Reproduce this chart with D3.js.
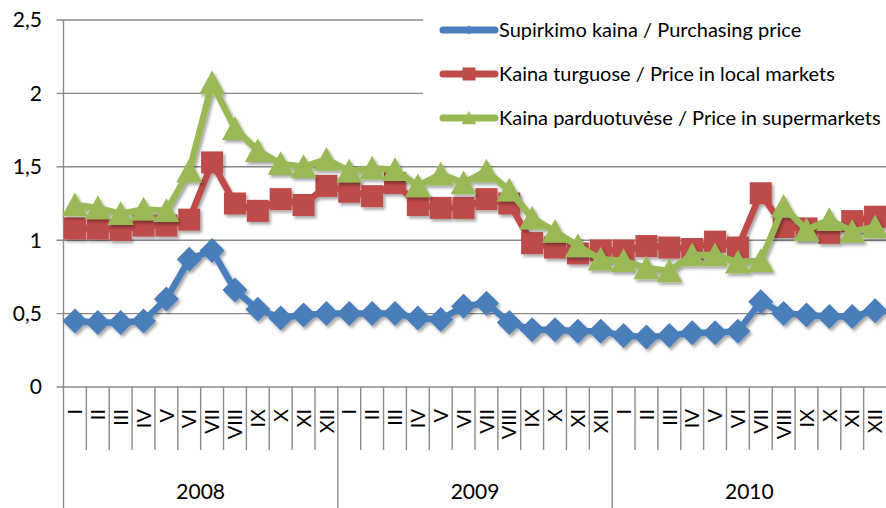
<!DOCTYPE html>
<html>
<head>
<meta charset="utf-8">
<title>Kainos / Prices</title>
<style>
body {
  margin: 0;
  background: white;
}
svg {
  display: block;
  font-family: Lato, "Open Sans", sans-serif;
}
.grid line {
  stroke: #8a8a8a;
  stroke-width: 1.4px;
}
.series path.line {
  fill: none;
  stroke-width: 6.5px;
  stroke-linejoin: round;
  stroke-linecap: round;
}
</style>
<script src="https://cdnjs.cloudflare.com/ajax/libs/d3/7.8.5/d3.min.js"></script>
</head>
<body>
<svg width="886" height="508"></svg>
<script>
const months = ['I', 'II', 'III', 'IV', 'V', 'VI', 'VII', 'VIII', 'IX', 'X', 'XI', 'XII'];
const years = ['2008', '2009', '2010'];
const yTicks = [0, 0.5, 1, 1.5, 2, 2.5];

// Supirkimo kaina / Purchasing price
const purchasing = [
  0.45, 0.44, 0.44, 0.45, 0.60, 0.87, 0.93, 0.66, 0.53, 0.47, 0.49, 0.50,
  0.50, 0.50, 0.50, 0.47, 0.46, 0.55, 0.57, 0.44, 0.39, 0.39, 0.38, 0.38,
  0.35, 0.34, 0.35, 0.37, 0.37, 0.38, 0.58, 0.50, 0.49, 0.48, 0.48, 0.52
];
// Kaina turguose / Price in local markets
const localMarkets = [
  1.08, 1.08, 1.07, 1.10, 1.10, 1.14, 1.53, 1.25, 1.20, 1.28, 1.24, 1.37,
  1.33, 1.30, 1.39, 1.24, 1.22, 1.22, 1.28, 1.25, 0.98, 0.95, 0.91, 0.93,
  0.93, 0.96, 0.95, 0.94, 0.99, 0.95, 1.32, 1.09, 1.08, 1.05, 1.13, 1.16
];
// Kaina parduotuvėse / Price in supermarkets
const supermarkets = [
  1.24, 1.22, 1.18, 1.21, 1.20, 1.47, 2.07, 1.76, 1.61, 1.52, 1.50, 1.55,
  1.47, 1.49, 1.48, 1.37, 1.45, 1.39, 1.47, 1.34, 1.15, 1.06, 0.96, 0.87,
  0.86, 0.81, 0.79, 0.90, 0.90, 0.85, 0.86, 1.23, 1.07, 1.14, 1.06, 1.09
];

const series = [
  { name: 'Supirkimo kaina / Purchasing price', values: purchasing, color: '#4a7ebb', marker: 'diamond' },
  { name: 'Kaina turguose / Price in local markets', values: localMarkets, color: '#be4b48', marker: 'square' },
  { name: 'Kaina parduotuvėse / Price in supermarkets', values: supermarkets, color: '#98b954', marker: 'triangle' }
];

const svg = d3.select('svg');
const plotLeft = 63.5, plotRight = 886.5, plotTop = 20, plotBottom = 387;

// one key per month, e.g. "2008-I"
const keys = [];
years.forEach(yr => months.forEach(m => keys.push(yr + '-' + m)));

const x = d3.scaleBand().domain(keys).range([plotLeft, plotRight]).padding(0);
const xYear = d3.scaleBand().domain(years).range([plotLeft, plotRight]).padding(0);
const y = d3.scaleLinear().domain([0, 2.5]).range([plotBottom, plotTop]);
const cx = k => x(k) + x.bandwidth() / 2;

// shadow like the office chart
const defs = svg.append('defs');
defs.append('filter')
  .attr('id', 'shadow')
  .attr('x', '-20%').attr('y', '-20%').attr('width', '140%').attr('height', '140%')
  .append('feDropShadow')
  .attr('dx', 2).attr('dy', 2.5).attr('stdDeviation', 1.6)
  .attr('flood-color', '#000').attr('flood-opacity', 0.35);

// gridlines
svg.append('g').attr('class', 'grid')
  .selectAll('line')
  .data(yTicks)
  .join('line')
  .attr('x1', plotLeft - 7)
  .attr('x2', plotRight)
  .attr('y1', d => y(d))
  .attr('y2', d => y(d));

// y labels
svg.append('g')
  .selectAll('text')
  .data(yTicks)
  .join('text')
  .attr('x', 42)
  .attr('y', d => y(d))
  .attr('dy', '0.35em')
  .attr('text-anchor', 'end')
  .attr('font-size', 21)
  .attr('fill', '#000')
  .text(d => d3.format('.1~f')(d).replace('.', ','));

// category axis: month ticks and year dividers
const axis = svg.append('g').attr('class', 'grid');
axis.append('line')
  .attr('x1', plotLeft).attr('x2', plotLeft)
  .attr('y1', plotTop).attr('y2', 508);
axis.selectAll('line.month')
  .data(keys.slice(1))
  .join('line')
  .attr('class', 'month')
  .attr('x1', d => x(d)).attr('x2', d => x(d))
  .attr('y1', plotBottom)
  .attr('y2', (d, i) => ((i + 1) % 12 === 0 ? 508 : 450));

// month labels, rotated
svg.append('g')
  .selectAll('text')
  .data(keys)
  .join('text')
  .attr('transform', d => `translate(${cx(d)},409) rotate(-90)`)
  .attr('text-anchor', 'end')
  .attr('dy', '0.36em')
  .attr('font-size', 20)
  .text(d => d.split('-')[1]);

// year labels
svg.append('g')
  .selectAll('text')
  .data(years)
  .join('text')
  .attr('x', d => xYear(d) + xYear.bandwidth() / 2)
  .attr('y', 492)
  .attr('dy', '0.35em')
  .attr('text-anchor', 'middle')
  .attr('font-size', 21)
  .text(d => d);

// markers
function markerPath(type, s) {
  if (type === 'diamond') return `M0,${-s / 2}L${s / 2},0L0,${s / 2}L${-s / 2},0Z`;
  if (type === 'square') return `M${-s / 2},${-s / 2}h${s}v${s}h${-s}Z`;
  return `M0,${-s * 0.5}L${s * 0.52},${s * 0.45}L${-s * 0.52},${s * 0.45}Z`;
}
const markerSize = { diamond: 25, square: 22, triangle: 25 };
const legendMarkerSize = { diamond: 9, square: 13, triangle: 14 };

// legend box covers the gridlines
svg.append('rect')
  .attr('x', 423).attr('y', 0)
  .attr('width', 463).attr('height', 150)
  .attr('fill', 'white');

const line = d3.line()
  .x((d, i) => cx(keys[i]))
  .y(d => y(d));

series.forEach(s => {
  const g = svg.append('g').attr('class', 'series').attr('filter', 'url(#shadow)');
  g.append('path')
    .attr('class', 'line')
    .attr('d', line(s.values))
    .attr('stroke', s.color);
  g.selectAll('path.mk')
    .data(s.values)
    .join('path')
    .attr('class', 'mk')
    .attr('transform', (d, i) => `translate(${cx(keys[i])},${y(d)})`)
    .attr('d', markerPath(s.marker, markerSize[s.marker]))
    .attr('fill', s.color);
});

// legend
const legend = svg.append('g')
  .selectAll('g')
  .data(series)
  .join('g')
  .attr('transform', (d, i) => `translate(0,${30 + i * 44})`);

legend.append('line')
  .attr('x1', 443).attr('x2', 495)
  .attr('y1', 0).attr('y2', 0)
  .attr('stroke', d => d.color)
  .attr('stroke-width', 7)
  .attr('stroke-linecap', 'round');

legend.append('path')
  .attr('transform', 'translate(469,0)')
  .attr('d', d => markerPath(d.marker, legendMarkerSize[d.marker]))
  .attr('fill', d => d.color);

legend.append('text')
  .attr('x', 499)
  .attr('y', 0)
  .attr('dy', '0.35em')
  .attr('font-size', 20)
  .text(d => d.name);
</script>
</body>
</html>
